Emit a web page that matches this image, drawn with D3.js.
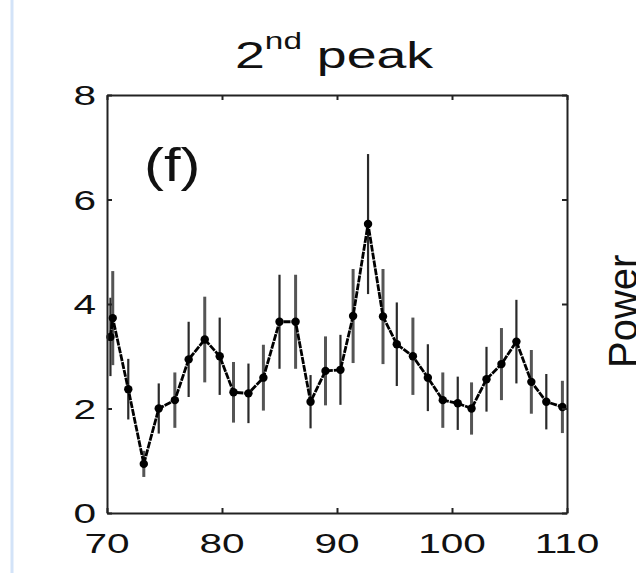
<!DOCTYPE html>
<html>
<head>
<meta charset="utf-8">
<script src="https://cdn.jsdelivr.net/npm/d3@7"></script>
<style>
  body { margin: 0; background: #fff; }
  svg { display: block; font-family: "Liberation Sans", Arial, sans-serif; }
</style>
</head>
<body>
<svg class="chart" width="636" height="573"></svg>
<script>
// data
const freq = [70.3, 70.5, 71.85, 73.2, 74.5, 75.9, 77.1, 78.5, 79.8, 81.0, 82.3, 83.6,
  85.0, 86.4, 87.7, 89.0, 90.3, 91.4, 92.7, 94.0, 95.2, 96.6, 97.9, 99.2,
  100.5, 101.7, 103.0, 104.3, 105.6, 106.9, 108.2, 109.6];
const power = [3.37, 3.73, 2.37, 0.94, 2.0, 2.16, 2.94, 3.32, 3.0, 2.31, 2.29, 2.59,
  3.66, 3.66, 2.13, 2.72, 2.74, 3.77, 5.53, 3.76, 3.23, 3.0, 2.59, 2.16,
  2.1, 2.0, 2.56, 2.85, 3.28, 2.51, 2.13, 2.03];
const err = [0.75, 0.9, 0.58, 0.25, 0.48, 0.53, 0.72, 0.82, 0.74, 0.58, 0.57, 0.63,
  0.9, 0.9, 0.51, 0.66, 0.67, 0.9, 1.34, 0.91, 0.8, 0.74, 0.64, 0.53,
  0.51, 0.5, 0.62, 0.69, 0.8, 0.61, 0.53, 0.5];
const xTicks = [70, 80, 90, 100, 110];
const yTicks = [0, 2, 4, 6, 8];

const svg = d3.select('.chart');
const plotLeft = 107, plotRight = 567, plotTop = 95, plotBottom = 513;
const stretch = 1.45; // text in the picture is wide

const x = d3.scaleLinear().domain([70, 110]).range([plotLeft, plotRight]);
const y = d3.scaleLinear().domain([0, 8]).range([plotBottom, plotTop]);

const data = freq.map((f, i) => ({ f, p: power[i], e: err[i] }));

// thin blue strip at the left edge
svg.append('line')
  .attr('x1', 12).attr('x2', 12).attr('y1', 0).attr('y2', 573)
  .attr('stroke', '#d3e3f8').attr('stroke-width', 3);

// error bars
svg.append('g')
  .selectAll('line')
  .data(data)
  .join('line')
  .attr('x1', d => x(d.f)).attr('x2', d => x(d.f))
  .attr('y1', d => y(d.p + d.e)).attr('y2', d => y(d.p - d.e))
  .attr('stroke', (d, i) => i % 2 ? '#555' : '#2a2a2a')
  .attr('stroke-width', (d, i) => i % 2 ? 3 : 2.2);

// line + dots
const line = d3.line().x(d => x(d.f)).y(d => y(d.p));
svg.append('path')
  .datum(data)
  .attr('d', line)
  .attr('fill', 'none')
  .attr('stroke', '#000')
  .attr('stroke-width', 2.8)
  .attr('stroke-dasharray', '7,1');

svg.append('g')
  .selectAll('circle')
  .data(data)
  .join('circle')
  .attr('cx', d => x(d.f))
  .attr('cy', d => y(d.p))
  .attr('r', 4.2)
  .attr('fill', '#000');

// axes: box with inward ticks
function styleAxis(g) {
  g.select('.domain').attr('stroke', '#222').attr('stroke-width', 2);
  g.selectAll('.tick line').attr('stroke', '#222').attr('stroke-width', 2);
}
svg.append('g').attr('transform', `translate(0,${plotBottom})`)
  .call(d3.axisBottom(x).tickValues(xTicks).tickSize(-5).tickSizeOuter(0).tickFormat(''))
  .call(styleAxis);
svg.append('g').attr('transform', `translate(0,${plotTop})`)
  .call(d3.axisTop(x).tickValues(xTicks).tickSize(-5).tickSizeOuter(0).tickFormat(''))
  .call(styleAxis);
svg.append('g').attr('transform', `translate(${plotLeft},0)`)
  .call(d3.axisLeft(y).tickValues(yTicks).tickSize(-5).tickSizeOuter(0).tickFormat(''))
  .call(styleAxis);
svg.append('g').attr('transform', `translate(${plotRight},0)`)
  .call(d3.axisRight(y).tickValues(yTicks).tickSize(-5).tickSizeOuter(0).tickFormat(''))
  .call(styleAxis);

// tick labels
svg.append('g')
  .selectAll('text')
  .data(xTicks)
  .join('text')
  .attr('transform', d => `translate(${x(d)},553) scale(${stretch},1)`)
  .attr('text-anchor', 'middle')
  .attr('font-size', 28)
  .attr('fill', '#111')
  .text(d => d);

svg.append('g')
  .selectAll('text')
  .data(yTicks)
  .join('text')
  .attr('transform', d => `translate(96,${y(d)}) scale(${stretch},1)`)
  .attr('text-anchor', 'end')
  .attr('dy', '0.36em')
  .attr('font-size', 28)
  .attr('fill', '#111')
  .text(d => d);

// title
const title = svg.append('text')
  .attr('transform', `translate(235,68) scale(${stretch},1)`)
  .attr('font-size', 37)
  .attr('fill', '#111');
title.append('tspan').text('2');
title.append('tspan').attr('font-size', 23).attr('dy', -19).text('nd');
title.append('tspan').attr('dy', 19).text(' peak');

// panel letter
svg.append('text')
  .attr('transform', 'translate(144,181) scale(1.3,1)')
  .attr('font-size', 46)
  .attr('fill', '#111')
  .text('(f)');

// cut-off label of the next panel
svg.append('text')
  .attr('transform', 'translate(637,368) rotate(-90)')
  .attr('font-size', 40)
  .attr('fill', '#111')
  .text('Power');
</script>
</body>
</html>
